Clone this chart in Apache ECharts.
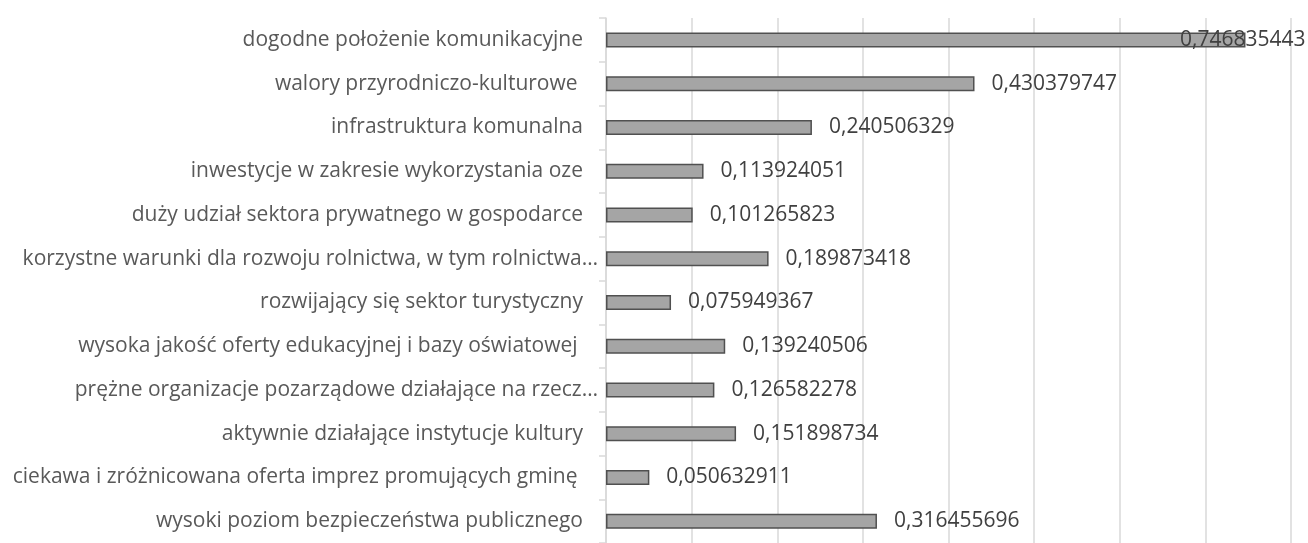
<!DOCTYPE html>
<html>
<head>
<meta charset="utf-8">
<script src="https://cdn.jsdelivr.net/npm/echarts@6/dist/echarts.min.js"></script>
<style>
  html, body { margin: 0; padding: 0; background: #ffffff; }
  #chart { width: 1308px; height: 543px; }
</style>
</head>
<body>
<div id="chart"></div>
<script>
// Strengths of the municipality, listed top to bottom
const categories = [
  'dogodne położenie komunikacyjne',
  'walory przyrodniczo-kulturowe ',
  'infrastruktura komunalna',
  'inwestycje w zakresie wykorzystania oze',
  'duży udział sektora prywatnego w gospodarce',
  'korzystne warunki dla rozwoju rolnictwa, w tym rolnictwa…',
  'rozwijający się sektor turystyczny',
  'wysoka jakość oferty edukacyjnej i bazy oświatowej ',
  'prężne organizacje pozarządowe działające na rzecz…',
  'aktywnie działające instytucje kultury',
  'ciekawa i zróżnicowana oferta imprez promujących gminę ',
  'wysoki poziom bezpieczeństwa publicznego'
];

const values = [
  0.746835443,
  0.430379747,
  0.240506329,
  0.113924051,
  0.101265823,
  0.189873418,
  0.075949367,
  0.139240506,
  0.126582278,
  0.151898734,
  0.050632911,
  0.316455696
];

const FONT = '"Open Sans", sans-serif';

// Values are shown with a decimal comma
const fmt = v => String(v).replace('.', ',');

// Shortened names run a little closer to the axis
const categoryData = categories.map(name =>
  name.endsWith('…')
    ? { value: name, textStyle: { padding: [0, -15, 0, 0] } }
    : name
);

// The longest bar's label sits over its end, right-aligned
const seriesData = values.map((v, i) => {
  const item = { value: v };
  if (i === 0) {
    item.label = { align: 'right', distance: 60 };
  }
  return item;
});

const chart = echarts.init(document.getElementById('chart'));
chart.setOption({
  animation: false,
  backgroundColor: '#ffffff',
  grid: { left: 606, right: 17, top: 18, height: 530, containLabel: false },
  xAxis: {
    type: 'value',
    min: 0,
    max: 0.8,
    interval: 0.1,
    axisLine: { show: false },
    axisTick: { show: false },
    axisLabel: { show: false },
    splitLine: { show: true, lineStyle: { color: '#d9d9d9', width: 1.5 } }
  },
  yAxis: {
    type: 'category',
    inverse: true,
    data: categoryData,
    axisLine: { show: true, lineStyle: { color: '#d9d9d9', width: 1.5 } },
    axisTick: { show: true, length: 7, lineStyle: { color: '#d9d9d9', width: 1.5 } },
    axisLabel: {
      margin: 23,
      color: '#595959',
      fontFamily: FONT,
      fontSize: 21
    },
    splitLine: { show: false }
  },
  series: [{
    type: 'bar',
    data: seriesData,
    barWidth: 15,
    itemStyle: { color: '#a5a5a5', borderColor: '#505050', borderWidth: 1.5 },
    label: {
      show: true,
      position: 'right',
      distance: 17,
      color: '#404040',
      fontFamily: FONT,
      fontSize: 21,
      formatter: p => fmt(p.value)
    }
  }]
});
</script>
</body>
</html>
